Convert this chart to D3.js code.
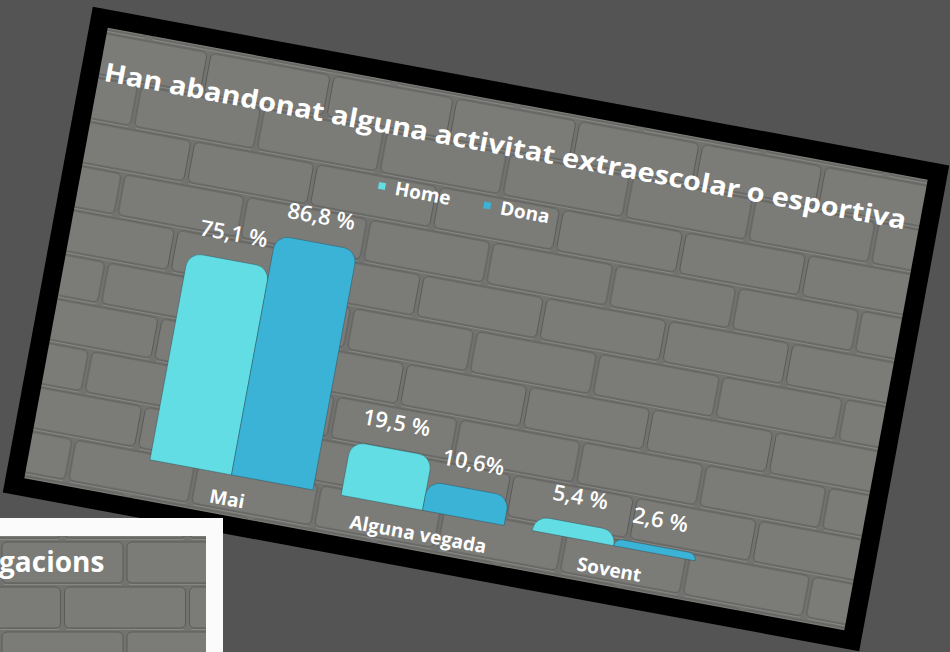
<!DOCTYPE html>
<html>
	<head>
		<script src="https://d3js.org/d3.v7.min.js"></script>
	</head>
	<body style="margin:0">
		<svg id="my_dataviz" width="950" height="652"></svg>
	</body>
	<script>
	// chart values
	var categories = ["Mai", "Alguna vegada", "Sovent"];
	var series = ["Home", "Dona"];
	var homeValues = [75.1, 19.5, 5.4];
	var donaValues = [86.8, 10.6, 2.6];
	var homeLabels = ["75,1 %", "19,5 %", "5,4 %"];
	var donaLabels = ["86,8 %", "10,6%", "2,6 %"];
	var seriesColors = ["#62dde4", "#3bb3d6"];
	var title = "Han abandonat alguna activitat extraescolar o esportiva";

	var svg = d3.select("svg"),
		width = +svg.attr("width"),
		height = +svg.attr("height");

	var font = "'Open Sans', 'DejaVu Sans', sans-serif";

	// background
	svg.append("rect").attr("width", width).attr("height", height).attr("fill", "#545454");

	// brick wall pattern
	var defs = svg.append("defs");
	var pat = defs.append("pattern")
		.attr("id", "bricks")
		.attr("patternUnits", "userSpaceOnUse")
		.attr("width", 250).attr("height", 90);
	pat.append("rect").attr("width", 250).attr("height", 90).attr("fill", "#727270");
	var brickRows = [[0, 125, 250], [-62.5, 62.5, 187.5]];
	brickRows.forEach(function(row, i){
		row.forEach(function(bx){
			pat.append("rect")
				.attr("x", bx + 2).attr("y", i * 45 + 2)
				.attr("width", 121).attr("height", 41)
				.attr("rx", 5)
				.attr("fill", "#7b7b78")
				.attr("stroke", "#5a5a58")
				.attr("stroke-width", 1);
			pat.append("line")
				.attr("x1", bx + 4).attr("x2", bx + 121)
				.attr("y1", i * 45 + 44.5).attr("y2", i * 45 + 44.5)
				.attr("stroke", "#878784").attr("stroke-width", 1.2);
		})
	});

	// rotated panel
	var panel = svg.append("g").attr("transform", "translate(476,329) rotate(10.5)");
	panel.append("rect")
		.attr("x", -435.5).attr("y", -247).attr("width", 871).attr("height", 494)
		.attr("fill", "#000");
	panel.append("rect")
		.attr("x", -417).attr("y", -229).attr("width", 834).attr("height", 458)
		.attr("fill", "url(#bricks)");

	// title
	panel.append("text")
		.attr("x", -412).attr("y", -176)
		.attr("textLength", 815).attr("lengthAdjust", "spacingAndGlyphs")
		.style("font-family", font).style("font-size", "26px").style("font-weight", 700)
		.attr("fill", "#fff")
		.text(title);

	// scales
	var x0 = d3.scaleBand().domain(categories).range([-311, 272]).paddingInner(0.147).paddingOuter(0.0735);
	var x1 = d3.scaleBand().domain(series).range([0, x0.bandwidth()]);
	var y = d3.scaleLinear().domain([0, 100]).range([188, 188 - 281]);
	var color = d3.scaleOrdinal().domain(series).range(seriesColors);

	// legend
	var legendX = [-122, -15];
	series.forEach(function(s, i){
		panel.append("rect")
			.attr("x", legendX[i]).attr("y", -127).attr("width", 7).attr("height", 7)
			.attr("fill", color(s));
		panel.append("text")
			.attr("x", legendX[i] + 17).attr("y", -117)
			.style("font-family", font).style("font-size", "19px").style("font-weight", 700)
			.attr("fill", "#fff")
			.text(s);
	});

	function roundedTop(x, yTop, w, h, r) {
		r = Math.min(r, h, w / 2);
		return "M" + x + "," + (yTop + h) +
			"V" + (yTop + r) +
			"A" + r + "," + r + " 0 0 1 " + (x + r) + "," + yTop +
			"H" + (x + w - r) +
			"A" + r + "," + r + " 0 0 1 " + (x + w) + "," + (yTop + r) +
			"V" + (yTop + h) + "Z";
	}

	var rows = [];
	categories.forEach(function(c, i){
		rows.push({cat: c, s: "Home", v: homeValues[i], label: homeLabels[i]});
		rows.push({cat: c, s: "Dona", v: donaValues[i], label: donaLabels[i]});
	});

	// bars
	panel.selectAll("path.bar")
		.data(rows)
		.enter()
		.append("path")
			.attr("class", "bar")
			.attr("d", function(d){
				var bx = x0(d.cat) + x1(d.s);
				return roundedTop(bx, y(d.v), x1.bandwidth(), y(0) - y(d.v), 14);
			})
			.attr("fill", function(d){ return color(d.s) })
			.attr("stroke", "rgba(30,50,60,0.4)")
			.attr("stroke-width", 0.8);

	// value labels
	panel.selectAll("text.value")
		.data(rows)
		.enter()
		.append("text")
			.attr("class", "value")
			.attr("x", function(d){ return x0(d.cat) + x1(d.s) + x1.bandwidth() / 2 })
			.attr("y", function(d){ return y(d.v) - 19 })
			.attr("text-anchor", "middle")
			.style("font-family", font).style("font-size", "22px").style("font-weight", 600)
			.attr("fill", "#fff")
			.text(function(d){ return d.label });

	// category labels
	panel.selectAll("text.cat")
		.data(categories)
		.enter()
		.append("text")
			.attr("class", "cat")
			.attr("x", function(d){ return x0(d) + x0.bandwidth() / 2 })
			.attr("y", 219)
			.attr("text-anchor", "middle")
			.style("font-family", font).style("font-size", "19px").style("font-weight", 700)
			.attr("fill", "#fff")
			.text(function(d){ return d });

	// second card, partly visible at bottom left
	var card = svg.append("g");
	card.append("rect").attr("x", -20).attr("y", 518).attr("width", 243).attr("height", 160).attr("fill", "#fbfbfb");
	card.append("rect").attr("x", -20).attr("y", 536).attr("width", 226).attr("height", 140).attr("fill", "url(#bricks)");
	card.append("text")
		.attr("x", -1).attr("y", 572)
		.style("font-family", font).style("font-size", "28px").style("font-weight", 700)
		.attr("fill", "#fff")
		.text("gacions");
	</script>
</html>
